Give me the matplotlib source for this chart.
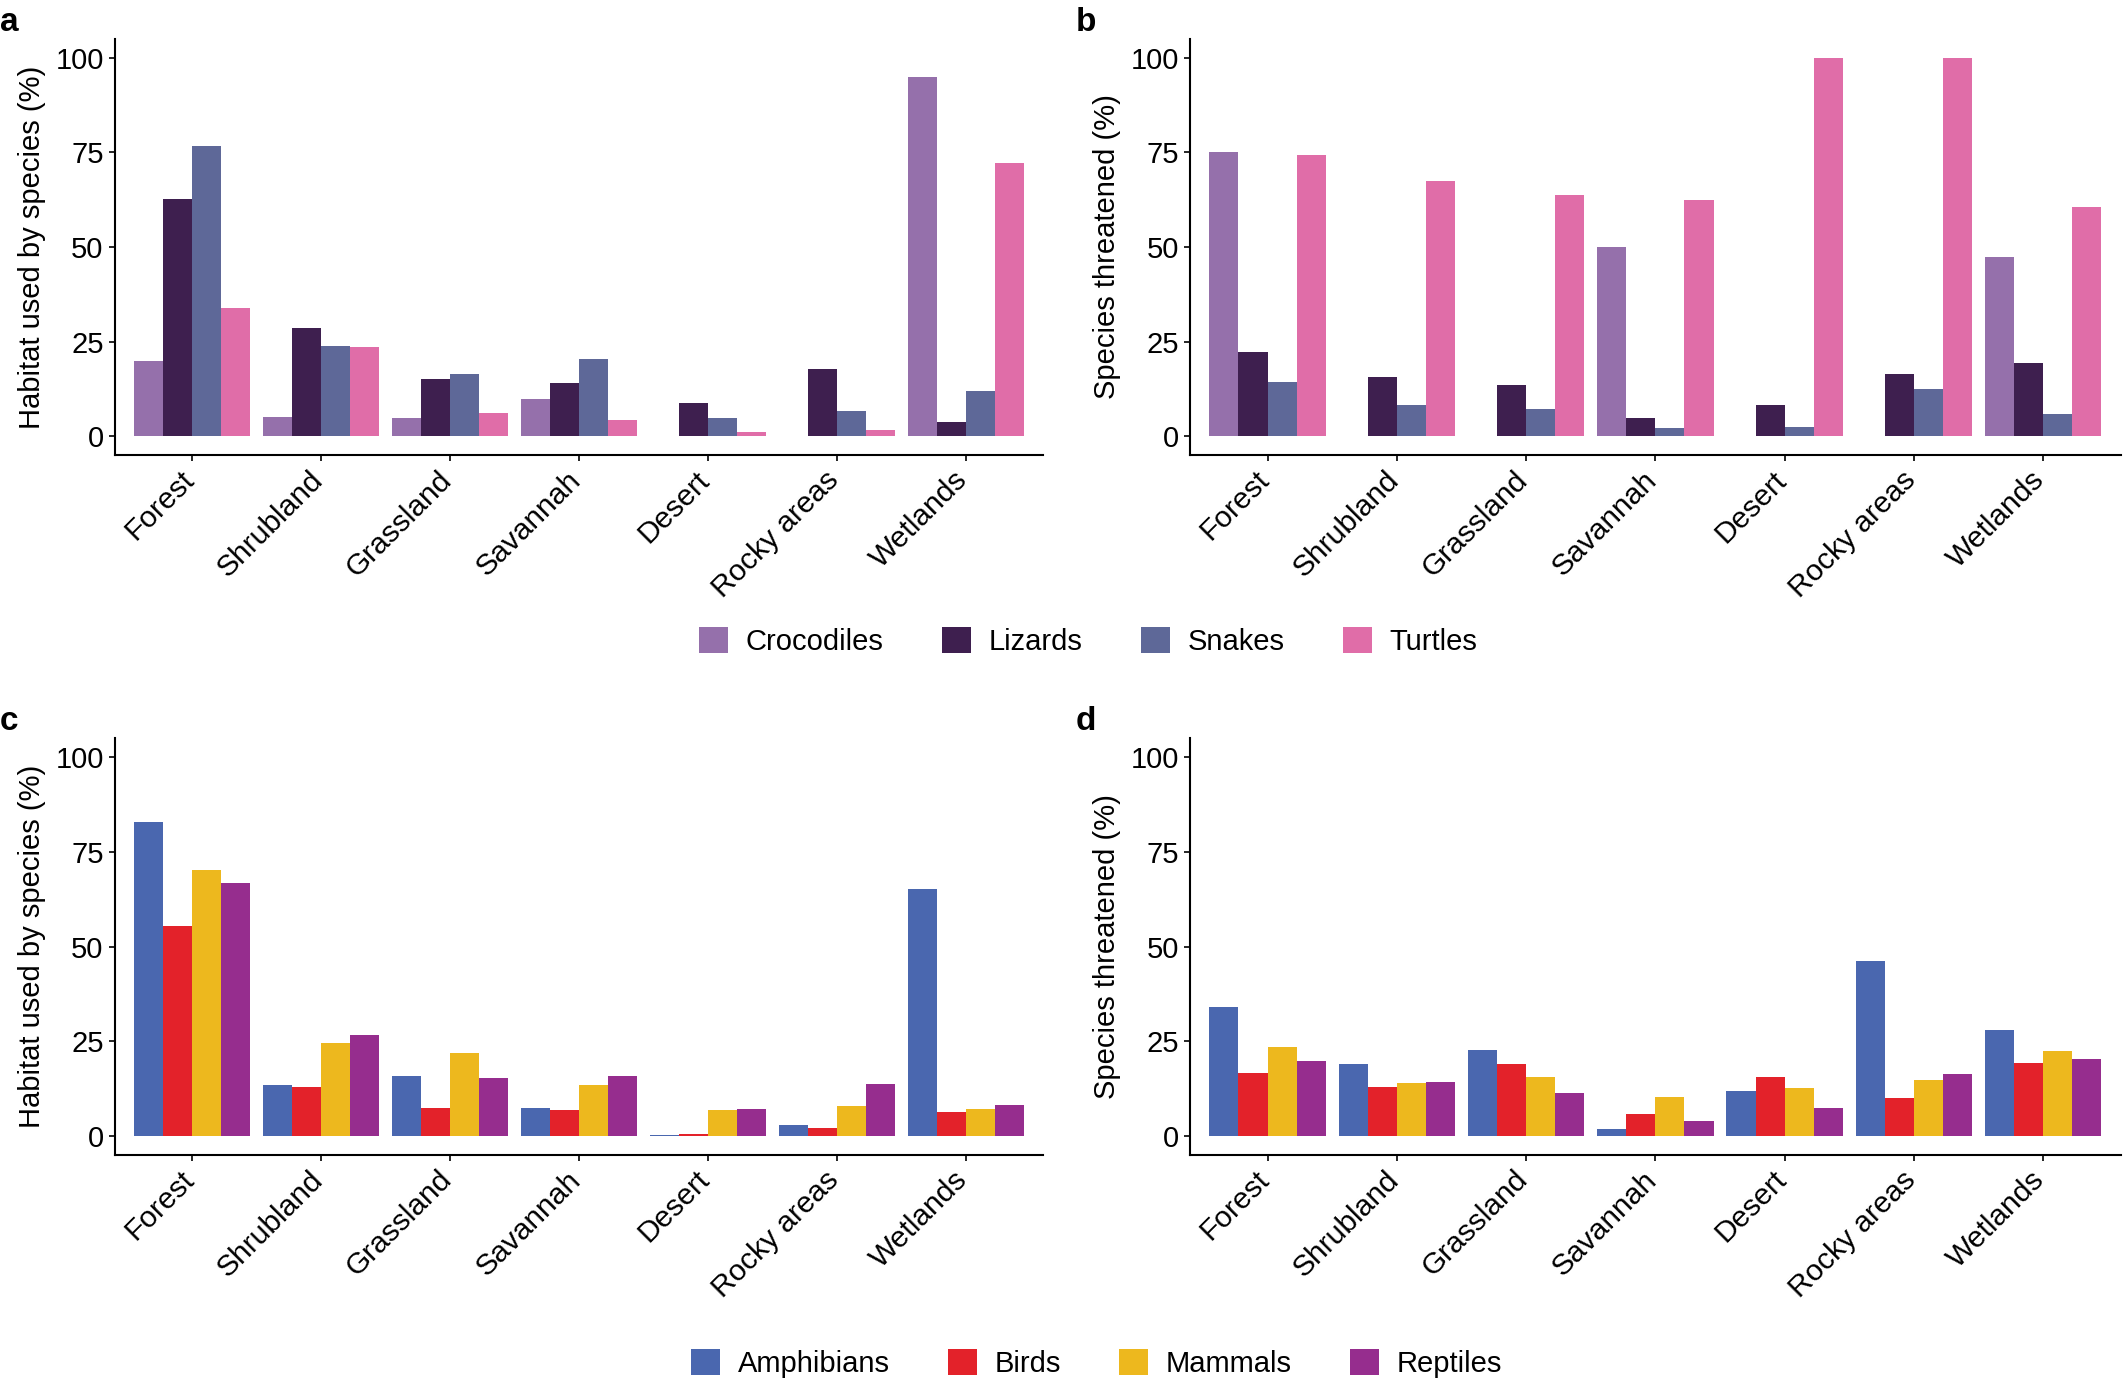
import numpy as np
import matplotlib
matplotlib.use('Agg')
import matplotlib.pyplot as plt
from matplotlib.patches import Patch

habitats = ['Forest', 'Shrubland', 'Grassland', 'Savannah', 'Desert', 'Rocky areas', 'Wetlands']

# reptile groups (panels a, b)
reptile_groups = ['Crocodiles', 'Lizards', 'Snakes', 'Turtles']
reptile_colors = ['#9570ab', '#3e1f4f', '#5e6898', '#e06da8']
habitat_crocodiles = [20.0, 5.1, 5.0, 10.0, 0.0, 0.0, 94.9]
habitat_lizards = [62.7, 28.7, 15.2, 14.0, 8.7, 17.9, 3.9]
habitat_snakes = [76.7, 24.0, 16.4, 20.5, 4.9, 6.7, 12.1]
habitat_turtles = [33.8, 23.5, 6.1, 4.4, 1.1, 1.6, 72.1]
threat_crocodiles = [75.0, 0.0, 0.0, 50.0, 0.0, 0.0, 47.4]
threat_lizards = [22.2, 15.7, 13.6, 4.9, 8.3, 16.6, 19.4]
threat_snakes = [14.5, 8.4, 7.2, 2.3, 2.6, 12.4, 6.0]
threat_turtles = [74.2, 67.5, 63.6, 62.4, 100.0, 100.0, 60.5]

# tetrapod classes (panels c, d)
classes = ['Amphibians', 'Birds', 'Mammals', 'Reptiles']
class_colors = ['#4a67af', '#e3222a', '#edb81e', '#962d8e']
habitat_amphibians = [82.9, 13.5, 15.9, 7.5, 0.4, 2.9, 65.3]
habitat_birds = [55.4, 12.9, 7.3, 6.9, 0.6, 2.2, 6.3]
habitat_mammals = [70.3, 24.7, 21.9, 13.5, 6.8, 7.9, 7.1]
habitat_reptiles = [66.8, 26.8, 15.3, 15.8, 7.1, 13.8, 8.1]
threat_amphibians = [34.2, 19.0, 22.6, 2.0, 11.8, 46.3, 28.1]
threat_birds = [16.6, 13.0, 19.1, 5.8, 15.7, 10.1, 19.4]
threat_mammals = [23.5, 13.9, 15.6, 10.2, 12.8, 14.7, 22.4]
threat_reptiles = [19.7, 14.3, 11.5, 4.1, 7.4, 16.3, 20.3]

plt.rcParams['font.family'] = ['Liberation Sans', 'DejaVu Sans']

fig = plt.figure(figsize=(21.25, 13.8), dpi=100)

ax = {}
ax['a'] = fig.add_axes([0.054, 0.670, 0.437, 0.302])
ax['b'] = fig.add_axes([0.560, 0.670, 0.438, 0.302])
ax['c'] = fig.add_axes([0.054, 0.163, 0.437, 0.302])
ax['d'] = fig.add_axes([0.560, 0.163, 0.438, 0.302])

panels = {
    'a': ([habitat_crocodiles, habitat_lizards, habitat_snakes, habitat_turtles], reptile_colors, 'Habitat used by species (%)'),
    'b': ([threat_crocodiles, threat_lizards, threat_snakes, threat_turtles], reptile_colors, 'Species threatened (%)'),
    'c': ([habitat_amphibians, habitat_birds, habitat_mammals, habitat_reptiles], class_colors, 'Habitat used by species (%)'),
    'd': ([threat_amphibians, threat_birds, threat_mammals, threat_reptiles], class_colors, 'Species threatened (%)'),
}

x = np.arange(len(habitats))
w = 0.225
for key, (series, cols, ylab) in panels.items():
    a = ax[key]
    for j, vals in enumerate(series):
        a.bar(x + (j - 1.5) * w, vals, width=w, color=cols[j], linewidth=0)
    a.set_xlim(-0.6, len(habitats) - 0.4)
    a.set_ylim(-5, 105)
    a.set_yticks([0, 25, 50, 75, 100])
    a.set_xticks(x)
    a.set_xticklabels([])
    # rotated category labels, top-right corner just under each tick
    for xi, lab in zip(x, habitats):
        a.annotate(lab, xy=(xi, 0), xycoords=a.get_xaxis_transform(),
                   xytext=(-9, -7.5), textcoords='offset points',
                   rotation=45, ha='right', va='top', rotation_mode='anchor',
                   fontsize=21.5, annotation_clip=False)
    for t in a.get_yticklabels():
        t.set_fontsize(21)
    a.set_ylabel(ylab, fontsize=21, labelpad=7)
    a.spines['top'].set_visible(False)
    a.spines['right'].set_visible(False)
    a.spines['left'].set_linewidth(1.5)
    a.spines['bottom'].set_linewidth(1.5)
    a.tick_params(axis='both', direction='out', length=4, width=1.2, pad=4)
    pos = a.get_position()
    fig.text(pos.x0 - 0.054, pos.y1 + 0.012, key, fontsize=24, fontweight='bold',
             va='center', ha='left')

h1 = [Patch(facecolor=c, edgecolor='none') for c in reptile_colors]
fig.legend(h1, reptile_groups, loc='center', bbox_to_anchor=(0.512, 0.535), ncol=4,
           frameon=False, fontsize=21, handlelength=1.0, handleheight=1.0,
           columnspacing=2.0, handletextpad=0.6)
h2 = [Patch(facecolor=c, edgecolor='none') for c in class_colors]
fig.legend(h2, classes, loc='center', bbox_to_anchor=(0.516, 0.012), ncol=4,
           frameon=False, fontsize=21, handlelength=1.0, handleheight=1.0,
           columnspacing=2.0, handletextpad=0.6)

fig.savefig('out.png', dpi=100)
